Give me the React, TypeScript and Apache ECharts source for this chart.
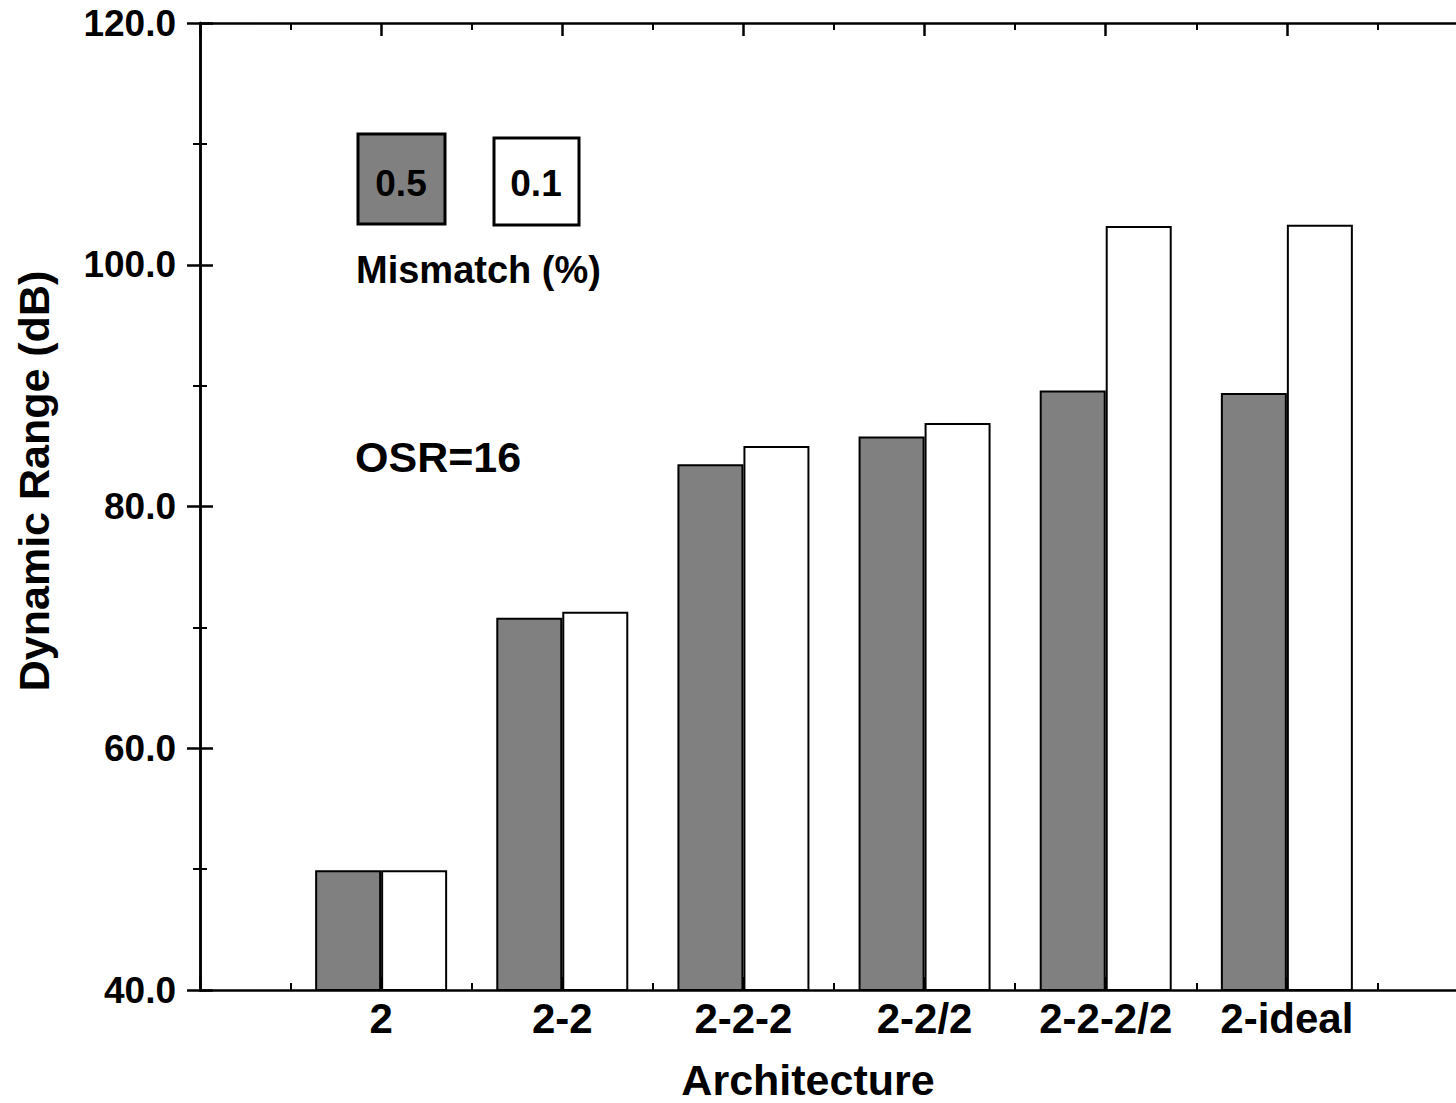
import React, { useEffect, useRef } from "react";
import * as echarts from "echarts";

const categories = ["2", "2-2", "2-2-2", "2-2/2", "2-2-2/2", "2-ideal"];
const mismatch05 = [49.9, 70.8, 83.5, 85.8, 89.6, 89.4];
const mismatch01 = [49.9, 71.3, 85.0, 86.9, 103.2, 103.3];
const seriesNames = ["0.5", "0.1"];
const yTicks = { min: 40, max: 120, interval: 20 };

const FONT = "Liberation Sans, Arial, sans-serif";

export default function App() {
  const ref = useRef<HTMLDivElement>(null);
  useEffect(() => {
    if (!ref.current) return;
    const chart = echarts.init(ref.current, undefined, { renderer: "svg" });
    const axisLine = { show: true, lineStyle: { color: "#000", width: 2.5 } };
    const tick = { show: true, inside: true, length: 13, lineStyle: { color: "#000", width: 2.5 } };
    const minor = { show: true, splitNumber: 2, length: 7, lineStyle: { color: "#000", width: 2 } };
    const xBase = { type: "value", min: 0, max: 7, interval: 1, splitLine: { show: false } };
    const yBase = { type: "value", min: yTicks.min, max: yTicks.max, interval: yTicks.interval, splitLine: { show: false } };
    chart.setOption({
      animation: false,
      backgroundColor: "#fff",
      grid: { left: 200, top: 23, width: 1268, height: 967, containLabel: false, outerBoundsMode: "none" },
      xAxis: [
        {
          ...xBase,
          position: "bottom",
          axisLine,
          axisTick: tick,
          minorTick: minor,
          axisLabel: {
            show: true,
            margin: 7,
            color: "#000",
            fontFamily: FONT,
            fontWeight: "bold",
            fontSize: 42,
            formatter: (v: number) => categories[v - 1] ?? "",
          },
        },
        {
          ...xBase,
          position: "top",
          axisLine,
          axisTick: tick,
          minorTick: minor,
          axisLabel: { show: false },
        },
      ],
      yAxis: [
        {
          ...yBase,
          position: "left",
          axisLine,
          axisTick: tick,
          minorTick: minor,
          axisLabel: {
            show: true,
            margin: 24,
            color: "#000",
            fontFamily: FONT,
            fontWeight: "bold",
            fontSize: 37,
            formatter: (v: number) => v.toFixed(1),
          },
        },
        {
          ...yBase,
          position: "right",
          axisLine,
          axisTick: tick,
          minorTick: minor,
          axisLabel: { show: false },
        },
      ],
      series: [
        {
          name: seriesNames[0],
          type: "bar",
          xAxisIndex: 0,
          yAxisIndex: 0,
          barWidth: 66,
          barGap: "0%",
          data: mismatch05.map((v, i) => [i + 1, v]),
          itemStyle: { color: "#808080", borderColor: "#000", borderWidth: 2 },
        },
        {
          name: seriesNames[1],
          type: "bar",
          xAxisIndex: 0,
          yAxisIndex: 0,
          barWidth: 66,
          barGap: "0%",
          data: mismatch01.map((v, i) => [i + 1, v]),
          itemStyle: { color: "#ffffff", borderColor: "#000", borderWidth: 2 },
        },
      ],
      graphic: [
        {
          type: "rect",
          shape: { x: 358, y: 134, width: 87, height: 90 },
          style: { fill: "#808080", stroke: "#000", lineWidth: 3 },
        },
        {
          type: "rect",
          shape: { x: 494, y: 138, width: 85, height: 87 },
          style: { fill: "#fff", stroke: "#000", lineWidth: 3 },
        },
        {
          type: "text",
          x: 401,
          y: 183,
          style: { text: seriesNames[0], fill: "#000", font: `bold 37px ${FONT}`, align: "center", verticalAlign: "middle" },
        },
        {
          type: "text",
          x: 536,
          y: 183,
          style: { text: seriesNames[1], fill: "#000", font: `bold 37px ${FONT}`, align: "center", verticalAlign: "middle" },
        },
        {
          type: "text",
          x: 356,
          y: 270,
          style: { text: "Mismatch (%)", fill: "#000", font: `bold 38px ${FONT}`, align: "left", verticalAlign: "middle" },
        },
        {
          type: "text",
          x: 355,
          y: 457,
          style: { text: "OSR=16", fill: "#000", font: `bold 43px ${FONT}`, align: "left", verticalAlign: "middle" },
        },
        {
          type: "text",
          x: 808,
          y: 1080,
          style: {
            text: "Architecture",
            fill: "#000",
            font: `bold 43px ${FONT}`,
            lineHeight: 40,
            align: "center",
            verticalAlign: "middle",
          },
        },
        {
          type: "text",
          x: 34,
          y: 481,
          rotation: Math.PI / 2,
          style: { text: "Dynamic Range (dB)", fill: "#000", font: `bold 43px ${FONT}`, align: "center", verticalAlign: "middle" },
        },
      ],
    });
    return () => chart.dispose();
  }, []);
  return (
    <div
      ref={ref}
      style={{ position: "absolute", left: 0, top: 0, width: 1456, height: 1103, overflow: "hidden", background: "#fff" }}
    />
  );
}
